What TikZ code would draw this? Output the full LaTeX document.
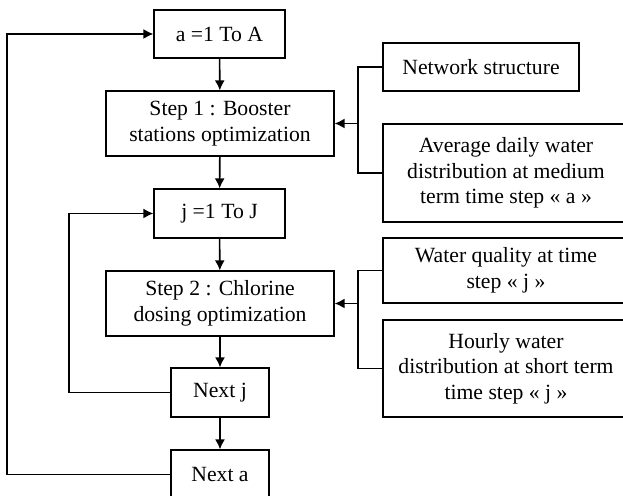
\documentclass[tikz,border=0pt]{standalone}
\usepackage{fontspec}
\setmainfont{Liberation Serif}
\usepackage{tikz}
\usetikzlibrary{arrows.meta, positioning}

\begin{document}
\begin{tikzpicture}[
    x=0.5pt, y=-0.5pt,
    every node/.style={font=\fontsize{10.85}{12.85}\selectfont},
    stepbox/.style={rectangle, draw, line width=0.6pt, align=center, inner sep=0pt},
    arr/.style={line width=0.8pt, -{Latex[length=5pt,width=5pt]}},
    feed/.style={line width=0.8pt}
]
    \useasboundingbox (0,0) rectangle (623,496);

    % main loop column
    \node[stepbox, minimum width=65.5pt, minimum height=24pt] (aloop) at (219.5, 34) {a =1 To A};
    \node[stepbox, minimum width=114pt, minimum height=32.5pt] (step1) at (220, 123.5) {Step 1 : Booster\\stations optimization};
    \node[stepbox, minimum width=65.5pt, minimum height=24.5pt] (jloop) at (219.5, 213.5) {j =1 To J};
    \node[stepbox, minimum width=114pt, minimum height=32.5pt] (step2) at (220, 303.5) {Step 2 : Chlorine\\dosing optimization};
    \node[stepbox, minimum width=49pt, minimum height=24.5pt] (nextj) at (220, 392.5) {Next j};
    \node[stepbox, minimum width=49pt, minimum height=24.5pt] (nexta) at (220, 474.5) {Next a};

    % inputs
    \node[stepbox, minimum width=98pt, minimum height=24pt] (net) at (481, 67) {Network structure};
    \node[stepbox, minimum width=123pt, minimum height=49pt] (avg) at (506, 173) {Average daily water\\distribution at medium\\term time step « a »};
    \node[stepbox, minimum width=123pt, minimum height=32.5pt] (wq) at (506, 270.5) {Water quality at time\\step « j »};
    \node[stepbox, minimum width=123pt, minimum height=48.5pt] (hourly) at (506, 368.5) {Hourly water\\distribution at short term\\time step « j »};

    \coordinate (feed1) at (358, 123.5);
    \coordinate (feed2) at (358, 303.5);
    \coordinate (outer) at (7, 34);
    \coordinate (inner) at (69, 213.5);

    \draw[arr] (aloop) -- (step1);
    \draw[arr] (step1) -- (jloop);
    \draw[arr] (jloop) -- (step2);
    \draw[arr] (step2) -- (nextj);
    \draw[arr] (nextj) -- (nexta);

    \draw[feed] (net.west) -| (feed1) |- (avg.west);
    \draw[arr] (feed1) -- (step1.east);
    \draw[feed] (wq.west) -| (feed2) |- (hourly.west);
    \draw[arr] (feed2) -- (step2.east);

    \draw[arr] (nextj.west) -| (inner) -- (jloop.west);
    \draw[arr] (nexta.west) -| (outer) -- (aloop.west);
\end{tikzpicture}
\end{document}
